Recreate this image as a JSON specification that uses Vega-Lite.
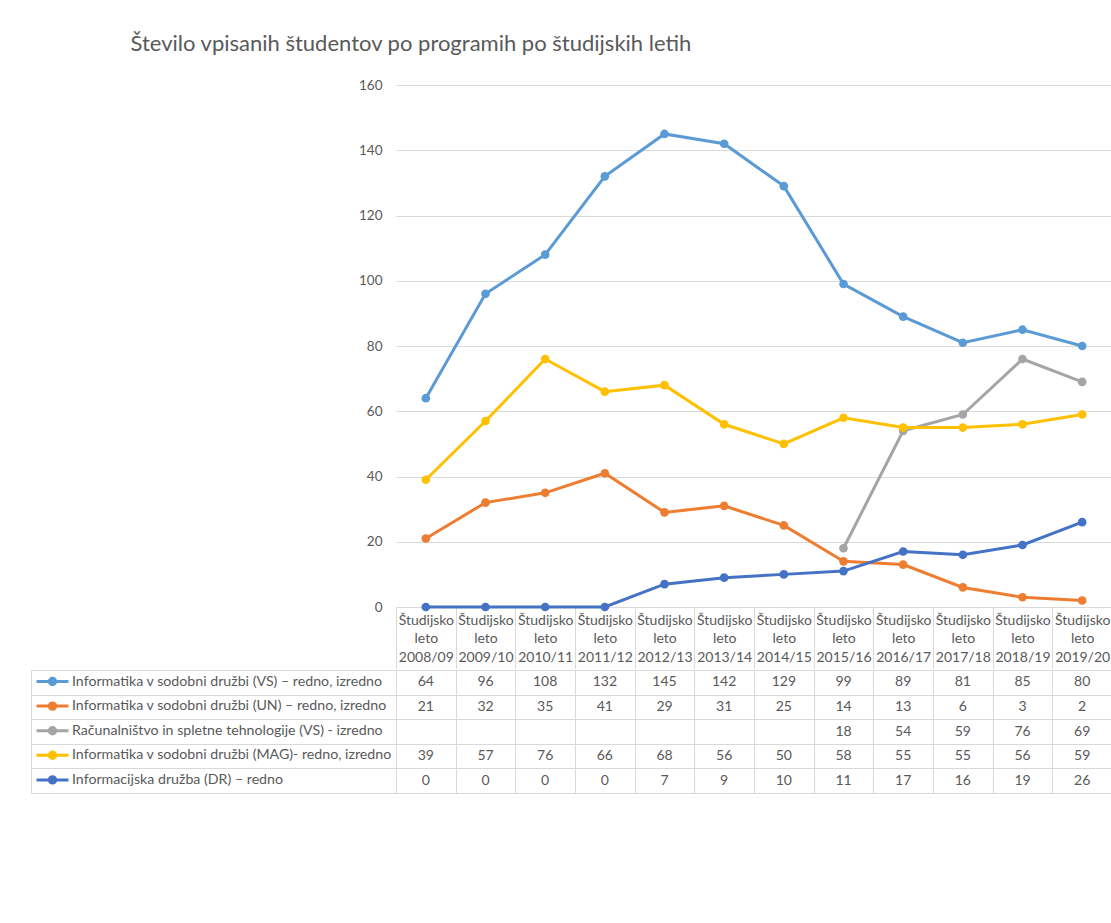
{
  "$schema": "https://vega.github.io/schema/vega-lite/v6.json",
  "padding": {"left": 30, "top": 33, "right": 0, "bottom": 0},
  "background": "white",
  "spacing": 0,
  "title": {
    "text": "Število vpisanih študentov po programih po študijskih letih",
    "anchor": "start",
    "dx": 100,
    "offset": 22,
    "fontSize": 22,
    "font": "Lato",
    "fontWeight": "normal",
    "color": "#595959"
  },
  "config": {
    "font": "Lato",
    "view": {"stroke": null}
  },
  "datasets": {
    "vpis": [
      {"program": "Informatika v sodobni družbi (VS) – redno, izredno", "leto": "2008/09", "stevilo": 64},
      {"program": "Informatika v sodobni družbi (VS) – redno, izredno", "leto": "2009/10", "stevilo": 96},
      {"program": "Informatika v sodobni družbi (VS) – redno, izredno", "leto": "2010/11", "stevilo": 108},
      {"program": "Informatika v sodobni družbi (VS) – redno, izredno", "leto": "2011/12", "stevilo": 132},
      {"program": "Informatika v sodobni družbi (VS) – redno, izredno", "leto": "2012/13", "stevilo": 145},
      {"program": "Informatika v sodobni družbi (VS) – redno, izredno", "leto": "2013/14", "stevilo": 142},
      {"program": "Informatika v sodobni družbi (VS) – redno, izredno", "leto": "2014/15", "stevilo": 129},
      {"program": "Informatika v sodobni družbi (VS) – redno, izredno", "leto": "2015/16", "stevilo": 99},
      {"program": "Informatika v sodobni družbi (VS) – redno, izredno", "leto": "2016/17", "stevilo": 89},
      {"program": "Informatika v sodobni družbi (VS) – redno, izredno", "leto": "2017/18", "stevilo": 81},
      {"program": "Informatika v sodobni družbi (VS) – redno, izredno", "leto": "2018/19", "stevilo": 85},
      {"program": "Informatika v sodobni družbi (VS) – redno, izredno", "leto": "2019/20", "stevilo": 80},
      {"program": "Informatika v sodobni družbi (UN) – redno, izredno", "leto": "2008/09", "stevilo": 21},
      {"program": "Informatika v sodobni družbi (UN) – redno, izredno", "leto": "2009/10", "stevilo": 32},
      {"program": "Informatika v sodobni družbi (UN) – redno, izredno", "leto": "2010/11", "stevilo": 35},
      {"program": "Informatika v sodobni družbi (UN) – redno, izredno", "leto": "2011/12", "stevilo": 41},
      {"program": "Informatika v sodobni družbi (UN) – redno, izredno", "leto": "2012/13", "stevilo": 29},
      {"program": "Informatika v sodobni družbi (UN) – redno, izredno", "leto": "2013/14", "stevilo": 31},
      {"program": "Informatika v sodobni družbi (UN) – redno, izredno", "leto": "2014/15", "stevilo": 25},
      {"program": "Informatika v sodobni družbi (UN) – redno, izredno", "leto": "2015/16", "stevilo": 14},
      {"program": "Informatika v sodobni družbi (UN) – redno, izredno", "leto": "2016/17", "stevilo": 13},
      {"program": "Informatika v sodobni družbi (UN) – redno, izredno", "leto": "2017/18", "stevilo": 6},
      {"program": "Informatika v sodobni družbi (UN) – redno, izredno", "leto": "2018/19", "stevilo": 3},
      {"program": "Informatika v sodobni družbi (UN) – redno, izredno", "leto": "2019/20", "stevilo": 2},
      {"program": "Računalništvo in spletne tehnologije (VS) - izredno", "leto": "2015/16", "stevilo": 18},
      {"program": "Računalništvo in spletne tehnologije (VS) - izredno", "leto": "2016/17", "stevilo": 54},
      {"program": "Računalništvo in spletne tehnologije (VS) - izredno", "leto": "2017/18", "stevilo": 59},
      {"program": "Računalništvo in spletne tehnologije (VS) - izredno", "leto": "2018/19", "stevilo": 76},
      {"program": "Računalništvo in spletne tehnologije (VS) - izredno", "leto": "2019/20", "stevilo": 69},
      {"program": "Informatika v sodobni družbi (MAG)- redno, izredno", "leto": "2008/09", "stevilo": 39},
      {"program": "Informatika v sodobni družbi (MAG)- redno, izredno", "leto": "2009/10", "stevilo": 57},
      {"program": "Informatika v sodobni družbi (MAG)- redno, izredno", "leto": "2010/11", "stevilo": 76},
      {"program": "Informatika v sodobni družbi (MAG)- redno, izredno", "leto": "2011/12", "stevilo": 66},
      {"program": "Informatika v sodobni družbi (MAG)- redno, izredno", "leto": "2012/13", "stevilo": 68},
      {"program": "Informatika v sodobni družbi (MAG)- redno, izredno", "leto": "2013/14", "stevilo": 56},
      {"program": "Informatika v sodobni družbi (MAG)- redno, izredno", "leto": "2014/15", "stevilo": 50},
      {"program": "Informatika v sodobni družbi (MAG)- redno, izredno", "leto": "2015/16", "stevilo": 58},
      {"program": "Informatika v sodobni družbi (MAG)- redno, izredno", "leto": "2016/17", "stevilo": 55},
      {"program": "Informatika v sodobni družbi (MAG)- redno, izredno", "leto": "2017/18", "stevilo": 55},
      {"program": "Informatika v sodobni družbi (MAG)- redno, izredno", "leto": "2018/19", "stevilo": 56},
      {"program": "Informatika v sodobni družbi (MAG)- redno, izredno", "leto": "2019/20", "stevilo": 59},
      {"program": "Informacijska družba (DR) – redno", "leto": "2008/09", "stevilo": 0},
      {"program": "Informacijska družba (DR) – redno", "leto": "2009/10", "stevilo": 0},
      {"program": "Informacijska družba (DR) – redno", "leto": "2010/11", "stevilo": 0},
      {"program": "Informacijska družba (DR) – redno", "leto": "2011/12", "stevilo": 0},
      {"program": "Informacijska družba (DR) – redno", "leto": "2012/13", "stevilo": 7},
      {"program": "Informacijska družba (DR) – redno", "leto": "2013/14", "stevilo": 9},
      {"program": "Informacijska družba (DR) – redno", "leto": "2014/15", "stevilo": 10},
      {"program": "Informacijska družba (DR) – redno", "leto": "2015/16", "stevilo": 11},
      {"program": "Informacijska družba (DR) – redno", "leto": "2016/17", "stevilo": 17},
      {"program": "Informacijska družba (DR) – redno", "leto": "2017/18", "stevilo": 16},
      {"program": "Informacijska družba (DR) – redno", "leto": "2018/19", "stevilo": 19},
      {"program": "Informacijska družba (DR) – redno", "leto": "2019/20", "stevilo": 26}
    ]
  },
  "vconcat": [
    {
      "width": 716,
      "height": 522,
      "data": {"name": "vpis"},
      "encoding": {
        "x": {
          "field": "leto",
          "type": "ordinal",
          "bandPosition": 0.5,
          "scale": {
            "type": "band",
            "domain": ["2008/09", "2009/10", "2010/11", "2011/12", "2012/13", "2013/14", "2014/15", "2015/16", "2016/17", "2017/18", "2018/19", "2019/20"],
            "paddingInner": 0,
            "paddingOuter": 0
          },
          "axis": {
            "title": null,
            "orient": "bottom",
            "domain": true,
            "domainColor": "#D9D9D9",
            "ticks": true,
            "tickBand": "extent",
            "tickSize": 61,
            "tickColor": "#D9D9D9",
            "grid": false,
            "labelAngle": 0,
            "labelExpr": "datum.label == '' ? '' : ['Študijsko', 'leto', datum.label]",
            "labelFontSize": 14,
            "labelColor": "#595959",
            "labelLineHeight": 18.5,
            "labelBaseline": "top",
            "labelPadding": -55,
            "labelOverlap": false,
            "labelBound": false
          }
        },
        "y": {
          "field": "stevilo",
          "type": "quantitative",
          "scale": {"domain": [0, 160], "nice": false, "zero": true},
          "axis": {
            "title": null,
            "values": [0, 20, 40, 60, 80, 100, 120, 140, 160],
            "domain": false,
            "ticks": false,
            "grid": true,
            "gridColor": "#D9D9D9",
            "labelFontSize": 13.5,
            "labelColor": "#595959",
            "labelPadding": 14
          }
        },
        "color": {
          "field": "program",
          "type": "nominal",
          "scale": {
            "domain": [
              "Informatika v sodobni družbi (VS) – redno, izredno",
              "Informatika v sodobni družbi (UN) – redno, izredno",
              "Računalništvo in spletne tehnologije (VS) - izredno",
              "Informatika v sodobni družbi (MAG)- redno, izredno",
              "Informacijska družba (DR) – redno"
            ],
            "range": ["#5B9BD5", "#ED7D31", "#A5A5A5", "#FFC000", "#4472C4"]
          },
          "legend": {
            "title": null,
            "orient": "none",
            "legendX": -365,
            "legendY": 587,
            "direction": "vertical",
            "padding": 0,
            "symbolType": "M-2,0L2,0M0.4,0A0.4,0.4,0,1,1,-0.4,0A0.4,0.4,0,1,1,0.4,0Z",
            "symbolSize": 256,
            "symbolStrokeWidth": 3,
            "symbolOffset": 12,
            "labelOffset": 10,
            "rowPadding": 5.6,
            "labelFontSize": 14.2,
            "labelFont": "Lato",
            "labelColor": "#595959",
            "labelLimit": 400,
            "encode": {
              "symbols": {
                "update": {
                  "fill": {"scale": "color", "field": "value"},
                  "stroke": {"scale": "color", "field": "value"},
                  "strokeWidth": {"value": 3},
                  "opacity": {"value": 1}
                }
              }
            }
          }
        }
      },
      "layer": [
        {"mark": {"type": "line", "strokeWidth": 3}},
        {"mark": {"type": "point", "filled": true, "size": 75, "opacity": 1}}
      ]
    },
    {
      "width": 716,
      "height": 123,
      "data": {"name": "vpis"},
      "mark": {"type": "text", "fontSize": 14, "color": "#595959", "align": "center", "baseline": "middle", "font": "Lato"},
      "encoding": {
        "x": {
          "field": "leto",
          "type": "ordinal",
          "bandPosition": 0.5,
          "scale": {
            "type": "band",
            "domain": ["2008/09", "2009/10", "2010/11", "2011/12", "2012/13", "2013/14", "2014/15", "2015/16", "2016/17", "2017/18", "2018/19", "2019/20"],
            "paddingInner": 0,
            "paddingOuter": 0
          },
          "axis": {
            "title": null,
            "grid": true,
            "tickBand": "extent",
            "gridColor": "#D9D9D9",
            "labels": false,
            "ticks": false,
            "domain": false
          }
        },
        "y": {
          "field": "program",
          "type": "nominal",
          "bandPosition": 0.5,
          "scale": {
            "type": "band",
            "domain": [
              "Informatika v sodobni družbi (VS) – redno, izredno",
              "Informatika v sodobni družbi (UN) – redno, izredno",
              "Računalništvo in spletne tehnologije (VS) - izredno",
              "Informatika v sodobni družbi (MAG)- redno, izredno",
              "Informacijska družba (DR) – redno"
            ],
            "paddingInner": 0,
            "paddingOuter": 0
          },
          "axis": {
            "title": null,
            "orient": "left",
            "offset": 365,
            "domain": true,
            "domainColor": "#D9D9D9",
            "ticks": true,
            "tickSize": -365,
            "tickColor": "#D9D9D9",
            "tickBand": "extent",
            "grid": true,
            "gridColor": "#D9D9D9",
            "labels": false
          }
        },
        "text": {"field": "stevilo", "type": "quantitative"}
      }
    }
  ]
}
